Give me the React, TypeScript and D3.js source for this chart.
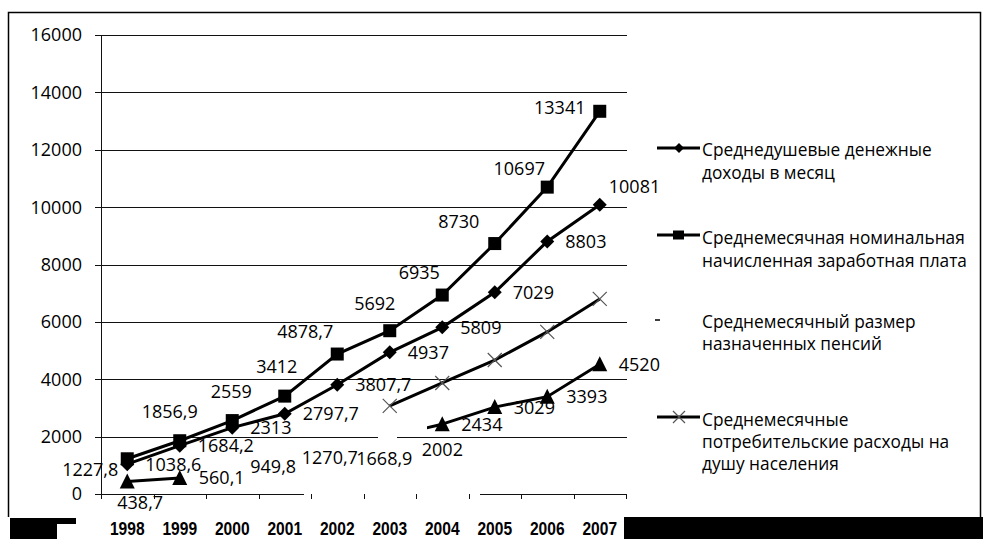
import React from 'react';
import * as d3 from 'd3';

const years = ['1998', '1999', '2000', '2001', '2002', '2003', '2004', '2005', '2006', '2007'];
const incomePerCapita = [1038.6, 1684.2, 2313, 2797.7, 3807.7, 4937, 5809, 7029, 8803, 10081];
const nominalWage = [1227.8, 1856.9, 2559, 3412, 4878.7, 5692, 6935, 8730, 10697, 13341];
const pension = [438.7, 560.1, 949.8, 1270.7, 1668.9, 2002, 2434, 3029, 3393, 4520];
const consumerSpending: (number | null)[] = [null, null, null, null, null, 3070, 3870, 4670, 5650, 6800];
const pensionShown = [true, true, false, false, false, false, true, true, true, true];
const yTicks = [0, 2000, 4000, 6000, 8000, 10000, 12000, 14000, 16000];

const legendIncome = ['Среднедушевые денежные', 'доходы в месяц'];
const legendWage = ['Среднемесячная номинальная', 'начисленная заработная плата'];
const legendPension = ['Среднемесячный размер', 'назначенных пенсий'];
const legendSpending = ['Среднемесячные', 'потребительские расходы на', 'душу населения'];

// label layout (offsets from point)
const wageLabelOffsets = [[-37, 11], [-10, -29], [-1, -29], [-8, -30], [-32, -22], [-15, -27], [-23, -22], [-36, -22], [-28, -19], [-40, -4]];
const incomeLabelOffsets: Record<number, [number, number]> = { 9: [9, -18] };
const pensionLabelOffsets: Record<number, [number, number]> = { 0: [-10, 21], 2: [18, 0], 3: [17, 0], 4: [19, 12], 5: [32, 13] };

const FONT = "'Open Sans', 'Noto Sans', sans-serif";
const fmt = (v: number) => String(v).replace('.', ',');

export default function App() {
  const x = d3.scaleBand<string>().domain(years).range([101, 626]);
  const y = d3.scaleLinear().domain([0, 16000]).range([494, 35]);
  const cx = (i: number) => (x(years[i]) as number) + x.bandwidth() / 2;
  const fs = 18;
  const lfs = 17.3;
  const base = 6.4;

  const line = d3.line<number | null>()
    .defined((d) => d !== null)
    .x((_, i) => cx(i))
    .y((d) => y(d as number));

  const pensionMain = pension.map((v, i) => (pensionShown[i] ? v : null));

  const diamond = (px: number, py: number, r: number) => `M${px},${py - r}L${px + r},${py}L${px},${py + r}L${px - r},${py}Z`;
  const tri = (px: number, py: number) => `M${px},${py - 8}L${px + 7.5},${py + 7}L${px - 7.5},${py + 7}Z`;
  const cross = (px: number, py: number, r: number) => `M${px - r},${py - r}L${px + r},${py + r}M${px - r},${py + r}L${px + r},${py - r}`;

  const boundaries = years.map((yr) => x(yr) as number).concat([626]);

  const legendX = 702;
  const lineLeg = (yy: number) => <line x1={657} x2={700} y1={yy} y2={yy} stroke="#000" strokeWidth={3} />;

  return (
    <svg width={983} height={539} style={{ position: 'absolute', left: 0, top: 0, background: '#fff' }} fontFamily={FONT}>
      <defs>
        <clipPath id="stubClip">
          <rect x={427} y={0} width={600} height={539} />
        </clipPath>
      </defs>
      <rect x={0} y={0} width={983} height={539} fill="#fff" />
      {/* outer frame */}
      <path d="M8.5,517V12.5H980.5V517" fill="none" stroke="#000" strokeWidth={1.5} />

      {/* gridlines */}
      {yTicks.map((t) => (
        <line key={t} x1={95} x2={627} y1={Math.round(y(t)) + 0.5} y2={Math.round(y(t)) + 0.5} stroke="#111" strokeWidth={1} />
      ))}
      {/* erased parts */}
      <rect x={304} y={491} width={176} height={6} fill="#fff" />
      <rect x={378} y={433} width={19} height={6} fill="#fff" />

      {/* y axis */}
      <line x1={101.5} x2={101.5} y1={35} y2={499} stroke="#111" strokeWidth={1} />
      {boundaries.map((b, i) => (
        <line key={i} x1={Math.round(b) + 0.5} x2={Math.round(b) + 0.5} y1={494} y2={499} stroke="#111" strokeWidth={1} />
      ))}

      {/* y tick labels */}
      {yTicks.map((t) => (
        <text key={t} x={82} y={y(t) + base} textAnchor="end" fontSize={fs} fill="#000">{t}</text>
      ))}

      {/* x labels */}
      {years.map((yr, i) => (
        <text key={yr} transform={`translate(${cx(i)},535) scale(0.82,1)`} textAnchor="middle" fontFamily="'Liberation Sans', Arial, sans-serif" fontWeight="bold" fontSize={19} fill="#000">{yr}</text>
      ))}

      {/* series lines */}
      <path d={line(nominalWage) || ''} fill="none" stroke="#000" strokeWidth={3} />
      <path d={line(incomePerCapita) || ''} fill="none" stroke="#000" strokeWidth={3} />
      <path d={line(consumerSpending) || ''} fill="none" stroke="#000" strokeWidth={3} />
      <path d={line(pensionMain) || ''} fill="none" stroke="#000" strokeWidth={3} />
      <path d={line(pension.map((v, i) => (i === 5 || i === 6 ? v : null))) || ''} fill="none" stroke="#000" strokeWidth={3} clipPath="url(#stubClip)" />

      {/* markers */}
      {nominalWage.map((v, i) => (
        <rect key={i} x={cx(i) - 6.5} y={y(v) - 6.5} width={13} height={13} fill="#000" />
      ))}
      {incomePerCapita.map((v, i) => (
        <path key={i} d={diamond(cx(i), y(v), 7)} fill="#000" />
      ))}
      {pension.map((v, i) => (pensionShown[i] ? <path key={i} d={tri(cx(i), y(v))} fill="#000" /> : null))}
      {consumerSpending.map((v, i) => (v === null ? null : (
        <path key={i} d={cross(cx(i), y(v), 7)} fill="none" stroke="#555" strokeWidth={1.2} />
      )))}

      {/* data labels */}
      {nominalWage.map((v, i) => (
        <text key={i} x={cx(i) + wageLabelOffsets[i][0]} y={y(v) + wageLabelOffsets[i][1] + base} textAnchor="middle" fontSize={fs} fill="#000">{fmt(v)}</text>
      ))}
      {incomePerCapita.map((v, i) => {
        const o = incomeLabelOffsets[i] || [18, 0];
        return <text key={i} x={cx(i) + o[0]} y={y(v) + o[1] + base} fontSize={fs} fill="#000">{fmt(v)}</text>;
      })}
      {pension.map((v, i) => {
        const o = pensionLabelOffsets[i] || [19, 0];
        return <text key={i} x={cx(i) + o[0]} y={y(v) + o[1] + base} fontSize={fs} fill="#000">{fmt(v)}</text>;
      })}

      {/* legend */}
      {lineLeg(148)}
      <path d={diamond(679, 148, 5)} fill="#000" />
      {legendIncome.map((s, k) => (
        <text key={k} x={legendX} y={156 + k * 23} fontSize={lfs} fill="#000">{s}</text>
      ))}
      {lineLeg(235)}
      <rect x={673} y={230.5} width={11} height={9} fill="#000" />
      {legendWage.map((s, k) => (
        <text key={k} x={legendX} y={244 + k * 23} fontSize={lfs} fill="#000">{s}</text>
      ))}
      <line x1={655} x2={660} y1={320} y2={320} stroke="#000" strokeWidth={1.5} />
      {legendPension.map((s, k) => (
        <text key={k} x={legendX} y={328 + k * 22} fontSize={lfs} fill="#000">{s}</text>
      ))}
      {lineLeg(417)}
      <path d={cross(679, 417, 6)} fill="none" stroke="#555" strokeWidth={1.2} />
      {legendSpending.map((s, k) => (
        <text key={k} x={legendX} y={426 + k * 22} fontSize={lfs} fill="#000">{s}</text>
      ))}

      {/* black blocks at bottom */}
      <path d="M10,518H76V524H57V539H10Z" fill="#000" />
      <rect x={624} y={517} width={359} height={22} fill="#000" />
    </svg>
  );
}
